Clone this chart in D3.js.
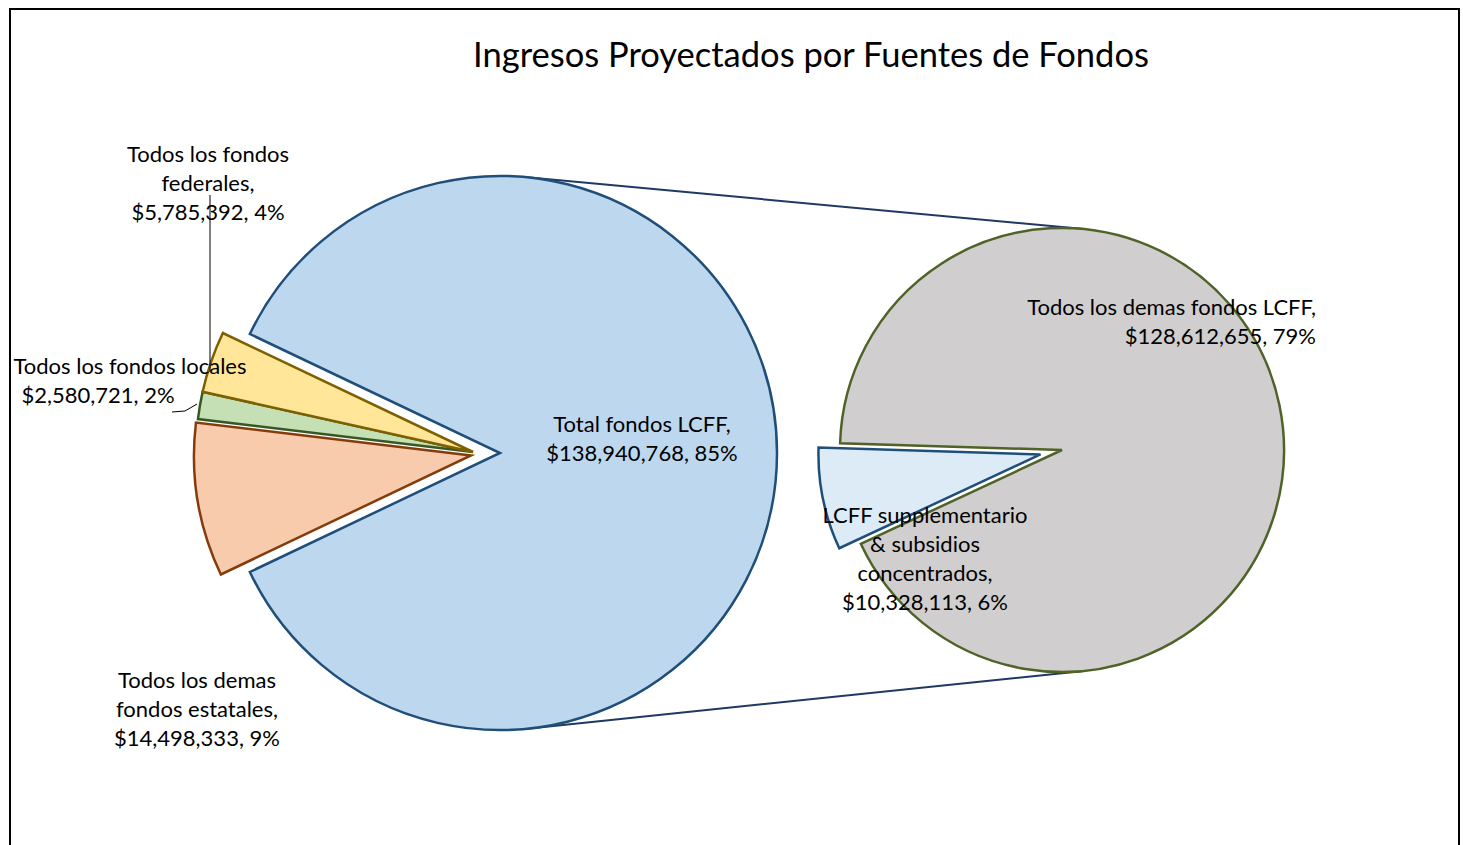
<!DOCTYPE html>
<html>
<head>
<meta charset="utf-8">
<script src="https://cdn.jsdelivr.net/npm/d3@7"></script>
<style>
  body { margin: 0; background: #fff; }
  text { font-family: Lato, "Open Sans", sans-serif; fill: #000; }
</style>
</head>
<body>
<div id="chart"></div>
<script>
// main pie, drawn counter-clockwise from the bottom of the left group
var mainCategories = ["Todos los demas fondos estatales", "Todos los fondos locales", "Todos los fondos federales", "Total fondos LCFF"];
var mainValues = [14498333, 2580721, 5785392, 138940768];
var mainPercents = ["9%", "2%", "4%", "85%"];

// secondary pie (split of LCFF)
var subCategories = ["LCFF supplementario & subsidios concentrados", "Todos los demas fondos LCFF"];
var subValues = [10328113, 128612655];
var subPercents = ["6%", "79%"];

var title = "Ingresos Proyectados por Fuentes de Fondos";

var width = 1463;
var height = 845;

var fmt = d3.format("$,");

var svg = d3.select('#chart')
    .append('svg')
    .attr('width', width)
    .attr('height', height);

// frame
svg.append('rect')
    .attr('x', 10)
    .attr('y', 9)
    .attr('width', 1449)
    .attr('height', 860)
    .attr('fill', 'none')
    .attr('stroke', '#000')
    .attr('stroke-width', 2);

svg.append('text')
    .attr('x', 811)
    .attr('y', 53)
    .attr('text-anchor', 'middle')
    .attr('dominant-baseline', 'central')
    .style('font-size', '34.5px')
    .text(title);

var mainFill = ["#F8CBAD", "#C5E0B4", "#FFE699", "#BDD7EE"];
var mainStroke = ["#843C0C", "#385723", "#7F6000", "#1F4E79"];

var c1 = [500, 453], r1 = 277;
var c2 = [1062, 450], r2 = 222;

// connector lines: outer tangents of both circles
var dist = c2[0] - c1[0];
var nx = (r1 - r2) / dist;
var ny = Math.sqrt(1 - nx * nx);
[-1, 1].forEach(function(s) {
    svg.append('line')
        .attr('x1', c1[0] + r1 * nx)
        .attr('y1', c1[1] + s * r1 * ny)
        .attr('x2', c2[0] + r2 * nx)
        .attr('y2', c2[1] + s * r2 * ny)
        .attr('stroke', '#1F3864')
        .attr('stroke-width', 2);
});

var total = d3.sum(mainValues);
var othersFrac = (total - mainValues[3]) / total;
var a0 = 1.5 * Math.PI - othersFrac * Math.PI;

var pieMain = d3.pie().sort(null).startAngle(a0).endAngle(a0 + 2 * Math.PI);
var arcMain = d3.arc().innerRadius(0).outerRadius(r1);

var mainArcs = pieMain(mainValues);

svg.append('g')
    .attr('transform', 'translate(' + c1[0] + ',' + c1[1] + ')')
    .selectAll('path')
    .data(mainArcs)
    .enter()
    .append('path')
    .attr('d', arcMain)
    .attr('transform', function(d, i) {
        if (i == 3) return null;
        var off = i == 0 ? 29 : 27;
        return 'translate(' + (-off) + ',' + (i == 0 ? 2.5 : -1) + ')';
    })
    .attr('fill', (d, i) => mainFill[i])
    .attr('stroke', (d, i) => mainStroke[i])
    .attr('stroke-width', 2.5)
    .attr('stroke-linejoin', 'miter');

// secondary pie
var subFill = ["#DDEBF7", "#D0CECE"];
var subStroke = ["#1F4E79", "#4F6228"];
var b0 = 245 * Math.PI / 180;
var pieSub = d3.pie().sort(null).startAngle(b0).endAngle(b0 + 2 * Math.PI);
var arcSub = d3.arc().innerRadius(0).outerRadius(r2);
var subArcs = pieSub(subValues);

svg.append('g')
    .attr('transform', 'translate(' + c2[0] + ',' + c2[1] + ')')
    .selectAll('path')
    .data(subArcs)
    .enter()
    .append('path')
    .attr('d', arcSub)
    .attr('transform', function(d, i) {
        if (i == 1) return null;
        var mid = (d.startAngle + d.endAngle) / 2;
        return 'translate(' + (22 * Math.sin(mid)) + ',' + (-22 * Math.cos(mid)) + ')';
    })
    .attr('fill', (d, i) => subFill[i])
    .attr('stroke', (d, i) => subStroke[i])
    .attr('stroke-width', 2.5);

// leader lines
svg.append('polyline')
    .attr('points', '210,195 210,372')
    .attr('fill', 'none')
    .attr('stroke', '#000')
    .attr('stroke-width', 1);
svg.append('polyline')
    .attr('points', '172,412 185,411 197,404')
    .attr('fill', 'none')
    .attr('stroke', '#000')
    .attr('stroke-width', 1);

// data labels
function label(lines, x, y, anchor) {
    var g = svg.append('text')
        .attr('text-anchor', anchor || 'middle')
        .style('font-size', '22px');
    lines.forEach(function(l, k) {
        g.append('tspan')
            .attr('x', Array.isArray(x) ? x[k] : x)
            .attr('y', y + k * 29)
            .attr('dominant-baseline', 'central')
            .text(l);
    });
}

label(["Todos los fondos", "federales,", fmt(mainValues[2]) + ", " + mainPercents[2]], 208, 153);
label(["Todos los fondos locales", fmt(mainValues[1]) + ", " + mainPercents[1]], [130, 98], 365);
label(["Todos los demas", "fondos estatales,", fmt(mainValues[0]) + ", " + mainPercents[0]], 197, 679);
label(["Total fondos LCFF,", fmt(mainValues[3]) + ", " + mainPercents[3]], 642, 423);
label(["Todos los demas fondos LCFF,", fmt(subValues[1]) + ", " + subPercents[1]], 1316, 306, 'end');
label(["LCFF supplementario", "& subsidios", "concentrados,", fmt(subValues[0]) + ", " + subPercents[0]], 925, 514);
</script>
</body>
</html>
